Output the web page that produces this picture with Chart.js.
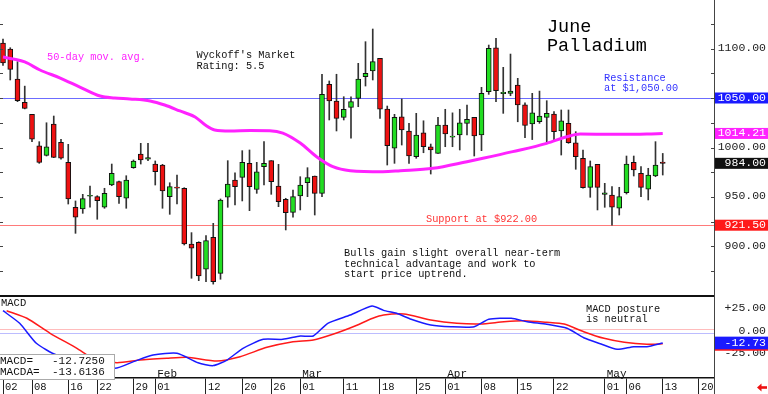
<!DOCTYPE html>
<html lang="en">
<head>
<meta charset="UTF-8">
<title>June Palladium</title>
<script src="https://cdn.jsdelivr.net/npm/chart.js"></script>
<style>
  * { box-sizing: border-box; }
  body { margin: 0; background: #fff; width: 768px; height: 394px; overflow: hidden; position: relative; }
  canvas { position: absolute; left: 0; display: block; }
  #price { top: 0; }
  #macd { top: 295px; }
</style>
</head>
<body>
<canvas id="price" width="768" height="295"></canvas>
<canvas id="macd" width="768" height="99"></canvas>
<script>
// daily candles, Jan 02 .. May 13 (trading-day index 0..91)
const opens  = [1105.6,1099.5,1069.2,1045.7,1033.5,1001.8,992.1,1023.7,1005.3,985,939.6,937.9,950.8,950.3,939.6,962.1,965.5,948.7,979.6,993.4,
  988.1,983.3,982.3,950.3,960,958.8,902.5,904.2,877,909.3,872.9,949.7,967.2,969.9,984,957.6,980.6,986.7,961.1,947.7,
  934.5,951,964.4,971.2,953.7,1063.8,1047,1030.5,1040.6,1049.7,1071.5,1077.3,1090.1,1038.9,999.2,1031.1,1016.7,990.7,1014.9,1000.8,
  994.1,1022.7,1010.4,1012.6,1024.4,1030.5,1012.6,1056.4,1100.8,1054.5,1054.7,1063.1,1043.2,1023.7,1026,1030.5,1033.8,1016.7,1024.4,1004.8,
  989.1,959.8,983,952.7,952,938.6,954.3,985,973.9,957.8,971.2,985.2];
const highs  = [1109.6,1100.8,1086.7,1062,1033.5,1005.9,1025,1031.8,1008.3,1003.2,946,952.7,961.1,951.3,958.8,983.3,966.2,971.5,987.4,1004.2,
  1004.2,986.4,983,964.4,972.2,959.4,914,904.8,910.9,923.4,948,986.7,974.5,996.8,997.5,985,1005.9,986.7,983,948.7,
  957,970.5,979.6,971.2,1074,1067.2,1074,1051.3,1051.3,1085,1106.9,1119.7,1090.1,1041.9,1033.5,1049,1024.4,1034.5,1027,1003.5,
  1030.5,1038.6,1035,1038.6,1042.9,1030.5,1060.8,1103.5,1110.3,1081,1094.4,1069.9,1045,1054.7,1057,1047.3,1036.2,1037.9,1037.9,1016,
  997.5,986.4,983,963.8,960.4,959.8,991.4,991.4,980.6,979,1005.9,994];
const lows   = [1083,1068.2,1046.3,1039,1005.9,984,991.4,989.7,988.1,942.9,913.3,933.5,939.6,927.5,938.6,961.4,943.6,938.6,979,983.3,
  986.7,962.1,938.6,932.5,943,901.5,867.9,865.5,864.4,862,866.9,939.6,941.9,946,936.2,953.7,962.1,952.7,940.2,916.7,
  929.5,936.9,950.3,931.8,950.3,1027.8,1016.7,1027.8,1009.3,1041.2,1062.1,1068.2,1029.5,982.3,984,1002.5,984,989.1,994.7,973.2,
  994.1,1000.8,1000.8,997.5,1012.6,991.4,996.8,1053.7,1046.3,1034.5,1052.3,1026,1010,1008,1024.4,1004.2,1005.9,992.4,1004.2,978,
  958.8,949.7,936.9,939.6,921.5,931.8,953,971.2,950.3,947,970.5,972.2];
const closes = [1085.4,1079,1047.3,1039.6,1008.3,985,1000.8,990.1,989.1,948,929.5,948.3,951.8,946.3,953.7,973.9,950.3,967.2,986.4,987.4,
  989.7,975.6,956.1,960.4,958.8,902.5,898.2,870.2,905.9,864.4,947,963.1,960.4,985,960.4,975.3,984,965.5,945.3,934.1,
  950.3,962.1,969.5,953.7,1053.7,1047,1029.5,1038.6,1046.3,1069.2,1075,1086.7,1038.6,1001.8,1030.5,1017.7,991.4,1012.6,1000.8,997.5,
  1022.7,1013.6,1011.6,1025,1028.5,1011.6,1054.7,1100.2,1057.4,1055.7,1057,1042.9,1022.2,1035.1,1031.8,1034.5,1016,1027,1004.8,990.7,
  959.4,980.6,959.8,954.3,939.6,950.3,983.3,977.3,959.8,972.2,982.3,984];

// 50-day moving average, read at trading-day positions
const maIdx = [0,1.4,3,5.1,7.9,10.6,13.4,15.4,17.5,20.3,22.3,24.4,26.5,27.9,29.2,31.3,34.1,36.8,38.6,41,43.3,45.5,47.9,52.4,54.8,59.3,64,66.2,70.3,75,77.8,79.6,84.1,88.8,91];
const maVal = [1091.4,1089.4,1086.4,1078.3,1070.2,1061.1,1052,1050,1049,1047,1042.9,1036.9,1030.8,1022.7,1017.7,1016.7,1017.2,1017,1014.6,1004.5,990.4,980.6,976.6,975.6,976.6,979,985.7,989.1,995.8,1004.2,1010.9,1013.6,1013.3,1013.6,1014.21];

// MACD (blue) and MACDA signal (red)
const macdIdx = [0,2.3,4.6,7.4,15.4,18,20.7,24,26.9,29,30.9,33.1,35.9,38.6,41,42.8,44.8,47.9,50.9,52.5,54.3,56.3,59,61.8,65,67,70.1,72.3,75,77.8,80.1,82.5,84.7,87,88.8,91];
const macdVal = [23.1,9.1,-13.1,-26.1,-40.9,-33.5,-26.1,-24.2,-34.7,-37.9,-31.7,-18.7,-8.7,-8.7,-5,-5,9.1,18.3,28.3,23.5,20.2,13.6,7.2,5.3,5.3,13.6,14.7,10.9,8,3.6,-6.9,-13.9,-19.8,-16.9,-16.9,-12.725];
const sigIdx = [0.5,3.3,6.5,10.2,12.4,15.7,18.9,22.6,25.4,29.5,32.7,36.4,40,42.8,45.5,48.3,51,52.5,55.3,59,62.6,65.9,69.1,71.9,75,77.4,80.1,82.9,85.7,88.8,91];
const sigVal = [23.1,14.7,-2,-18.7,-29.8,-34.7,-31.7,-29.8,-28.7,-32.8,-28,-17.6,-11.3,-9.4,-3.1,5.3,14.7,18.3,19.4,12.8,9.1,8.3,10.9,12,10.2,8.3,-0.2,-7.6,-12,-14.2,-13.6136];

const dateIdx = [0,4,9,13,18,21,28,33,37,41,47,52,57,61,66,71,76,83,86,91,96];
const dateLabels = ['02','08','16','22','29','01','12','20','26','01','11','18','25','01','08','15','22','01','06','13','20'];
const monthIdx = [21,41,61,83];
const monthLabels = ['Feb','Mar','Apr','May'];

const priceTicks = [1100,1000,950,900];
const macdTicks = [25,0,-25];
const resistance = 1050, support = 921.5;
const lastMA = 1014.21, lastPrice = 984;
const lastMacd = -12.725, lastSig = -13.6136;

const FONT = '"Liberation Mono", "DejaVu Sans Mono", monospace';
const GREEN = '#22dd22', RED = '#ee1111';
const X_MIN = -0.414, X_MAX = 98.07;

const days = opens.map((o, i) => i);
const pts = (xs, ys) => xs.map((x, k) => ({x: x, y: ys[k]}));
// round half away from zero, so -12.725 shows as -12.73
const fix2 = v => (Math.sign(v) * Math.round(Math.abs(v) * 100 + 1e-6) / 100).toFixed(2);

function fixWidth(axis) { axis.width = 54; axis.paddingTop = 0; axis.paddingBottom = 0; }

function txt(ctx, s, x, y, size, color, align) {
  ctx.font = size + 'px ' + FONT;
  ctx.fillStyle = color;
  ctx.textAlign = align || 'left';
  ctx.textBaseline = 'middle';
  ctx.fillText(s, x, y);
}
function tag(ctx, s, y, bg, h) {
  h = h || 11;
  ctx.fillStyle = bg;
  ctx.fillRect(715, y - h / 2, 53, h);
  if (s) txt(ctx, s, 766, y, 11.5, '#fff', 'right');
}
function hline(ctx, x0, x1, y, color) {
  ctx.fillStyle = color;
  ctx.fillRect(x0, Math.round(y - 0.5), x1 - x0, 1);
}

const priceDecor = {
  id: 'priceDecor',
  beforeDatasetsDraw(chart) {
    const {ctx, chartArea: a, scales: {y}} = chart;
    hline(ctx, a.left, a.right, y.getPixelForValue(resistance), '#6c6cff');
    hline(ctx, a.left, a.right, y.getPixelForValue(support), '#ff7a7a');
  },
  afterDraw(chart) {
    const {ctx, chartArea: a, scales: {y}} = chart;
    ctx.save();
    ctx.fillStyle = '#444';
    ctx.fillRect(a.right, 0, 1, chart.height);
    for (let v = Math.ceil(y.min / 25) * 25; v <= y.max; v += 25) {
      const py = Math.round(y.getPixelForValue(v));
      ctx.fillRect(a.right - 3, py, 3, 1);
      ctx.fillRect(0, py, 3, 1);
    }
    txt(ctx, '50-day mov. avg.', 47, 57, 10.3, '#ff22ff');
    txt(ctx, "Wyckoff's Market", 196.5, 55.5, 10.3, '#111');
    txt(ctx, 'Rating: 5.5', 196.5, 66, 10.3, '#111');
    txt(ctx, 'June', 547, 27, 18.5, '#000');
    txt(ctx, 'Palladium', 547, 46, 18.5, '#000');
    txt(ctx, 'Resistance', 604, 78.3, 10.3, '#3333ff');
    txt(ctx, 'at $1,050.00', 604, 88.3, 10.3, '#3333ff');
    txt(ctx, 'Support at $922.00', 426, 219.3, 10.3, '#ff3333');
    txt(ctx, 'Bulls gain slight overall near-term', 344, 253.3, 10.3, '#111');
    txt(ctx, 'technical advantage and work to', 344, 264, 10.3, '#111');
    txt(ctx, 'start price uptrend.', 344, 274.3, 10.3, '#111');
    priceTicks.forEach(v => txt(ctx, v.toFixed(2), 766, y.getPixelForValue(v) - 1, 11.5, '#222', 'right'));
    tag(ctx, fix2(resistance), y.getPixelForValue(resistance), '#1a1aff');
    tag(ctx, fix2(lastMA), y.getPixelForValue(lastMA), '#ff22ff');
    tag(ctx, fix2(lastPrice), y.getPixelForValue(lastPrice), '#111');
    tag(ctx, fix2(support), y.getPixelForValue(support), '#ff1a1a');
    ctx.restore();
  }
};

new Chart(document.getElementById('price'), {
  type: 'bar',
  data: {
    datasets: [
      {
        type: 'line', order: 0,
        data: pts(maIdx, maVal),
        borderColor: '#ff22ff', borderWidth: 3, pointRadius: 0,
        cubicInterpolationMode: 'monotone'
      },
      {
        order: 1, grouped: false, barThickness: 5,
        data: days.map(i => ({x: i, y: [opens[i], closes[i]]})),
        backgroundColor: c => closes[c.dataIndex] >= opens[c.dataIndex] ? GREEN : RED,
        borderColor: '#111', borderWidth: 1, borderSkipped: false
      },
      {
        order: 2, grouped: false, barThickness: 1,
        data: days.map(i => ({x: i, y: [lows[i], highs[i]]})),
        backgroundColor: '#333', borderWidth: 0
      }
    ]
  },
  options: {
    responsive: false, animation: false, events: [],
    layout: { padding: 0 },
    plugins: { legend: { display: false }, tooltip: { enabled: false } },
    scales: {
      x: { type: 'linear', min: X_MIN, max: X_MAX, offset: false, display: false },
      y: {
        type: 'linear', position: 'right', min: 851, max: 1149,
        ticks: { display: false }, grid: { display: false }, border: { display: false },
        afterFit: fixWidth
      }
    }
  },
  plugins: [priceDecor]
});

const macdDecor = {
  id: 'macdDecor',
  beforeDatasetsDraw(chart) {
    const {ctx, chartArea: a, scales: {y}} = chart;
    hline(ctx, a.left, a.right, y.getPixelForValue(1.7), '#ffbcbc');
    hline(ctx, a.left, a.right, y.getPixelForValue(-2), '#bcbcff');
  },
  afterDraw(chart) {
    const {ctx, chartArea: a, scales: {x, y}} = chart;
    ctx.save();
    ctx.fillStyle = '#111';
    ctx.fillRect(0, 0, a.right, 2);
    ctx.fillStyle = '#444';
    ctx.fillRect(a.right, 0, 1, chart.height);
    txt(ctx, 'MACD', 1, 8, 10.5, '#111');
    txt(ctx, 'MACD posture', 586, 14, 10.3, '#111');
    txt(ctx, 'is neutral', 586, 24, 10.3, '#111');
    monthIdx.forEach((d, k) => txt(ctx, monthLabels[k], x.getPixelForValue(d) + 2, 79, 11, '#111'));
    ctx.fillStyle = '#fff';
    ctx.fillRect(0, 59, 115, 25.5);
    ctx.strokeStyle = '#aaa';
    ctx.lineWidth = 1;
    ctx.strokeRect(-0.5, 59.5, 115, 25);
    txt(ctx, 'MACD=', 0, 66, 11, '#111');
    txt(ctx, lastMacd.toFixed(4), 52, 66, 11, '#111');
    txt(ctx, 'MACDA=', 0, 77.3, 11, '#111');
    txt(ctx, lastSig.toFixed(4), 52, 77.3, 11, '#111');
    macdTicks.forEach(v => txt(ctx, (v > 0 ? '+' : '') + v.toFixed(2), 766, y.getPixelForValue(v) - 1, 11.5, '#222', 'right'));
    tag(ctx, '', y.getPixelForValue(lastSig) + 0.5, '#ff1a1a', 13);
    tag(ctx, fix2(lastMacd), y.getPixelForValue(lastMacd), '#1a1aff', 12.6);
    ctx.fillStyle = RED;
    ctx.beginPath();
    ctx.moveTo(757, 92.5); ctx.lineTo(761.5, 88.5); ctx.lineTo(761.5, 96.5); ctx.closePath();
    ctx.fill();
    ctx.fillRect(761, 91.2, 6, 2.6);
    ctx.restore();
  }
};

new Chart(document.getElementById('macd'), {
  type: 'line',
  data: {
    datasets: [
      { data: pts(macdIdx, macdVal), borderColor: '#1a1aff', borderWidth: 1.5, pointRadius: 0, tension: 0.2 },
      { data: pts(sigIdx, sigVal), borderColor: '#ff1a1a', borderWidth: 1.5, pointRadius: 0, tension: 0.2 }
    ]
  },
  options: {
    responsive: false, animation: false, events: [],
    layout: { padding: { top: 2 } },
    plugins: { legend: { display: false }, tooltip: { enabled: false } },
    scales: {
      x: {
        type: 'linear', min: X_MIN, max: X_MAX, bounds: 'data', offset: false,
        afterBuildTicks: axis => { axis.ticks = dateIdx.map(v => ({ value: v })); },
        afterFit: axis => { axis.height = 16; axis.paddingLeft = 0; axis.paddingRight = 0; },
        grid: { display: true, drawOnChartArea: false, drawTicks: true, tickLength: 16, color: '#222', lineWidth: 1 },
        border: { display: true, color: '#111', width: 1.5 },
        ticks: {
          autoSkip: false, maxRotation: 0, align: 'start', padding: -13, labelOffset: 2,
          color: '#111', font: { family: FONT, size: 10.5 },
          callback: (v, i) => dateLabels[i]
        }
      },
      y: {
        type: 'linear', position: 'right', min: -51.67, max: 38.33,
        ticks: { display: false }, grid: { display: false }, border: { display: false },
        afterFit: fixWidth
      }
    }
  },
  plugins: [macdDecor]
});
</script>
</body>
</html>
